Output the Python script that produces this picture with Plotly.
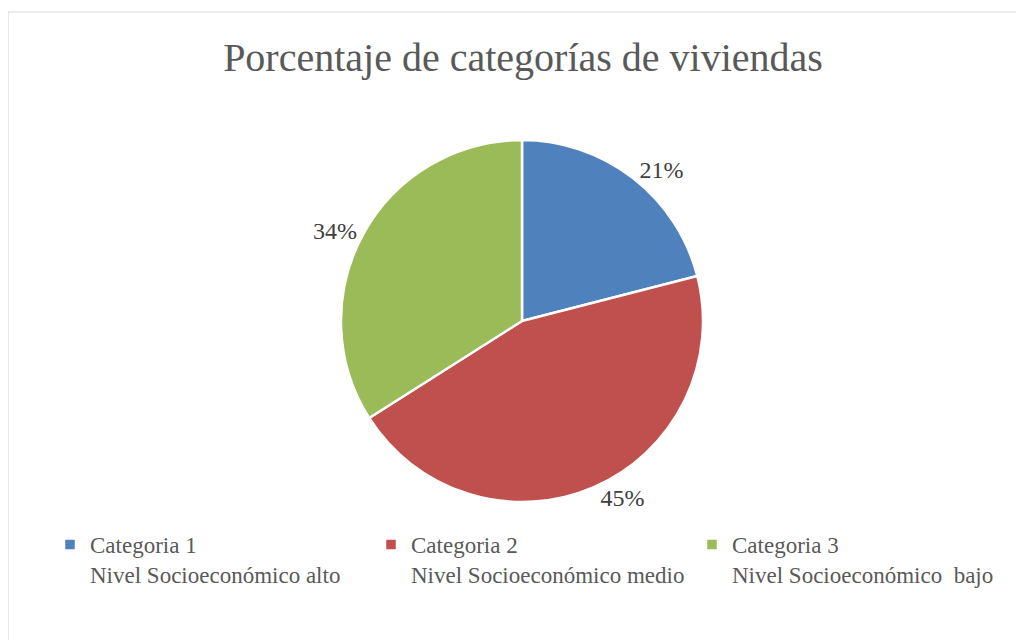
import plotly.graph_objects as go

categories = ["Categoria 1<br>Nivel Socioeconómico alto",
              "Categoria 2<br>Nivel Socioeconómico medio",
              "Categoria 3<br>Nivel Socioeconómico  bajo"]
values = [21, 45, 34]
colors = ["#4F81BD", "#C0504D", "#9BBB59"]
title_text = "Porcentaje de categorías de viviendas"

W, H = 1024, 640
OFF = 8  # page body margin offset
FONT = "Liberation Serif"


def px_x(x):
    return (x - OFF) / W


def px_y(y):
    return 1 - (y - OFF) / H


fig = go.Figure(go.Pie(
    labels=categories,
    values=values,
    sort=False,
    direction="clockwise",
    rotation=0,
    marker=dict(colors=colors, line=dict(color="white", width=2.5)),
    texttemplate="%{percent:.0%}",
    textposition="outside",
    textfont=dict(family=FONT, size=24, color="#404040"),
    hoverinfo="label+percent",
    domain=dict(x=[px_x(341), px_x(703)], y=[px_y(502), px_y(140)]),
))

fig.update_layout(
    width=W, height=H,
    margin=dict(l=0, r=0, t=0, b=0, autoexpand=False),
    paper_bgcolor="white",
    title=dict(text=title_text, x=px_x(523), xanchor="center", y=px_y(57), yanchor="middle",
               font=dict(family=FONT, size=40, color="#595959")),
    legend=dict(orientation="h", x=px_x(50), xanchor="left", y=px_y(523), yanchor="top",
                valign="top", entrywidth=276, entrywidthmode="pixels", itemwidth=30,
                font=dict(family=FONT, size=23, color="#595959"),
                itemclick=False, itemdoubleclick=False),
    shapes=[dict(type="rect", xref="paper", yref="paper", x0=px_x(8), x1=1.01, y0=-0.01, y1=px_y(12),
                 line=dict(color="#D9D9D9", width=1.2), fillcolor="rgba(0,0,0,0)")],
)

fig.write_html("out.html")
